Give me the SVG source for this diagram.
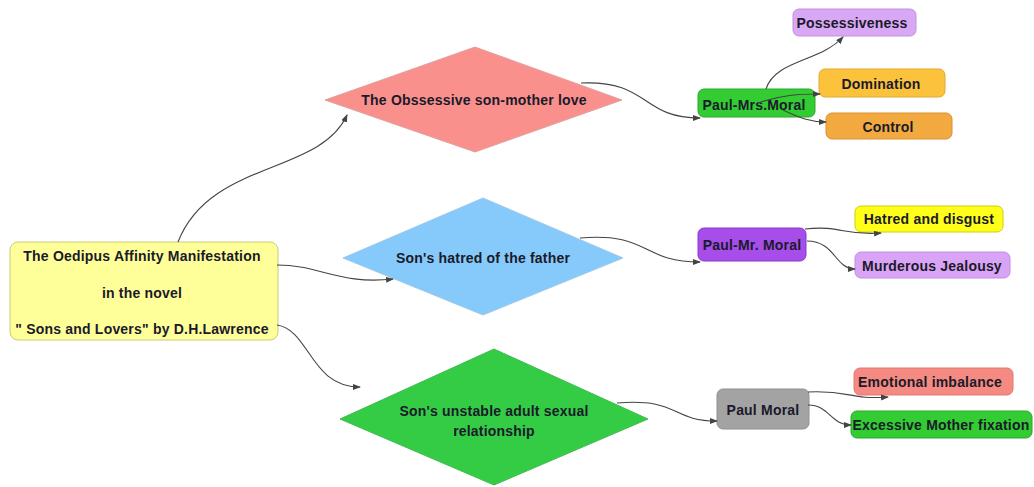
<svg xmlns="http://www.w3.org/2000/svg" width="1034" height="487" viewBox="0 0 1034 487">
<defs>
<style>
text{font-family:"Liberation Sans",Arial,sans-serif;font-weight:bold;font-size:14px;letter-spacing:0.2px;fill:#1a1a2a;text-anchor:middle;dominant-baseline:central}
.c{fill:none;stroke:#444;stroke-width:1.1;marker-end:url(#ah)}
.box{stroke-width:1}
</style>
<marker id="ah" markerWidth="8" markerHeight="6" refX="7" refY="3" orient="auto" markerUnits="userSpaceOnUse">
<path d="M0,0 L8,3 L0,6 Z" fill="#444"/>
</marker>
</defs>
<rect width="1034" height="487" fill="#ffffff"/>
<g id="root">
<rect class="box" x="10" y="242" width="268" height="98" rx="8" fill="#ffff99" stroke="#cccc77"/>
<text x="142" y="256">The Oedipus Affinity Manifestation</text>
<text x="142" y="293">in the novel</text>
<text x="142" y="329">" Sons and Lovers" by D.H.Lawrence</text>
</g>
<g id="d1">
<polygon points="325,100 475,47 622,100 475,152" fill="#fa908c" stroke="#e0a0a0"/>
<text x="474" y="100">The Obssessive son-mother love</text>
</g>
<g id="d2">
<polygon points="343,258 483,198 623,258 483,315" fill="#85cafa" stroke="#a0c8e8"/>
<text x="483" y="258">Son's hatred of the father</text>
</g>
<g id="d3">
<polygon points="340,419 494,349 648,419 494,485" fill="#33cc44" stroke="#44bb55"/>
<text x="494" y="411">Son's unstable adult sexual</text>
<text x="494" y="431">relationship</text>
</g>
<g id="paul-mrs">
<rect class="box" x="698" y="89" width="117" height="28" rx="6" fill="#33cc33" stroke="#2aa82a"/>
<text x="754" y="105">Paul-Mrs.Moral</text>
</g>
<g id="possessiveness">
<rect class="box" x="793" y="9" width="123" height="27" rx="6" fill="#d9a8f5" stroke="#c090e0"/>
<text x="852" y="23">Possessiveness</text>
</g>
<g id="domination">
<rect class="box" x="819" y="69" width="126" height="28" rx="6" fill="#fcc23c" stroke="#e0a830"/>
<text x="881" y="84">Domination</text>
</g>
<g id="control">
<rect class="box" x="826" y="113" width="126" height="26" rx="6" fill="#f2aa40" stroke="#d89030"/>
<text x="888" y="127">Control</text>
</g>
<g id="paul-mr">
<rect class="box" x="698" y="228" width="108" height="33" rx="6" fill="#a64dea" stroke="#8a38d0"/>
<text x="752" y="245">Paul-Mr. Moral</text>
</g>
<g id="hatred">
<rect class="box" x="855" y="206" width="148" height="26" rx="6" fill="#ffff1a" stroke="#d0d000"/>
<text x="929" y="219">Hatred and disgust</text>
</g>
<g id="murderous">
<rect class="box" x="855" y="252" width="155" height="26" rx="6" fill="#d9a4f5" stroke="#c090e0"/>
<text x="932" y="266">Murderous Jealousy</text>
</g>
<g id="paul">
<rect class="box" x="717" y="389" width="92" height="40" rx="6" fill="#a3a3a3" stroke="#909090"/>
<text x="763" y="410">Paul Moral</text>
</g>
<g id="emotional">
<rect class="box" x="854" y="368" width="159" height="27" rx="6" fill="#f48a82" stroke="#e07a72"/>
<text x="930" y="382">Emotional imbalance</text>
</g>
<g id="excessive">
<rect class="box" x="851" y="411" width="181" height="27" rx="6" fill="#33cc33" stroke="#2aa82a"/>
<text x="941" y="425">Excessive Mother fixation</text>
</g>
<g id="connectors">
<path class="c" d="M178,242 C210,160 320,175 347,115"/>
<path class="c" d="M277,265 C320,265 340,285 393,279"/>
<path class="c" d="M277,325 C310,330 310,387 360,387"/>
<path class="c" d="M581,83 C650,80 640,118 700,118"/>
<path class="c" d="M766,89 C775,60 820,62 843,37"/>
<path class="c" d="M758,103 C780,95 800,94 820,94"/>
<path class="c" d="M783,110 C800,118 810,122 826,122"/>
<path class="c" d="M580,238 C650,232 640,262 700,262"/>
<path class="c" d="M805,229 C840,225 845,236 881,233"/>
<path class="c" d="M807,241 C835,241 835,269 855,269"/>
<path class="c" d="M617,403 C680,398 670,421 717,421"/>
<path class="c" d="M808,392 C850,390 850,400 888,397"/>
<path class="c" d="M808,405 C830,405 830,425 851,425"/>
</g>
</svg>
